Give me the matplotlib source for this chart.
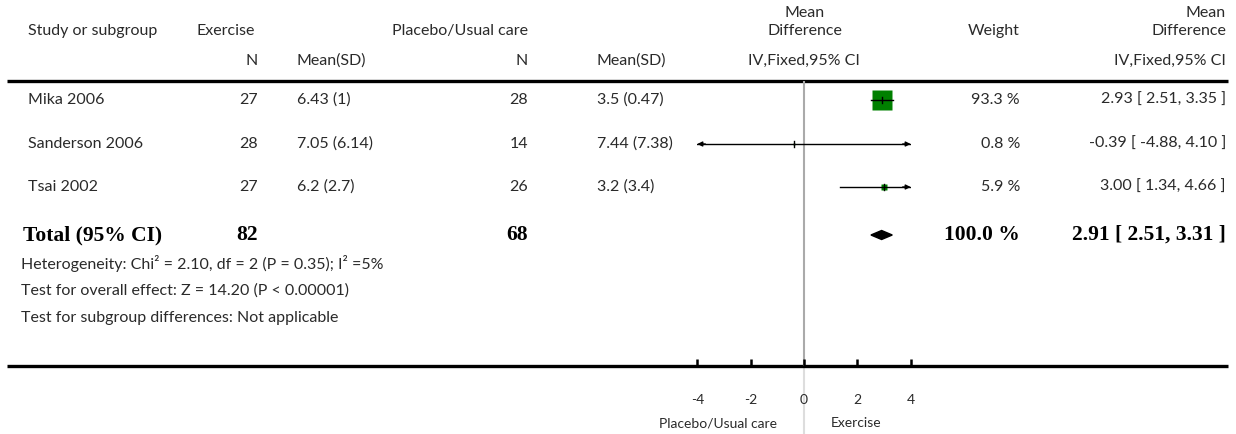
import numpy as np
import matplotlib.pyplot as plt
from matplotlib.patches import Polygon

# study rows
studies = ['Mika 2006', 'Sanderson 2006', 'Tsai 2002']
n_ex = [27, 28, 27]
msd_ex = ['6.43 (1)', '7.05 (6.14)', '6.2 (2.7)']
n_pl = [28, 14, 26]
msd_pl = ['3.5 (0.47)', '7.44 (7.38)', '3.2 (3.4)']
md = [2.93, -0.39, 3.00]
lo = [2.51, -4.88, 1.34]
hi = [3.35, 4.10, 4.66]
weight = [93.3, 0.8, 5.9]

# pooled estimate
tot_n_ex, tot_n_pl = 82, 68
tot_md, tot_lo, tot_hi = 2.91, 2.51, 3.31
tot_weight = 100.0

footer = ['Heterogeneity: Chi² = 2.10, df = 2 (P = 0.35); I² =5%',
          'Test for overall effect: Z = 14.20 (P < 0.00001)',
          'Test for subgroup differences: Not applicable']
xticks = [-4, -2, 0, 2, 4]
xlim = (-4, 4)

W, H = 1236, 434
fig = plt.figure(figsize=(W / 100, H / 100), dpi=100)
ax = fig.add_axes([0, 0, 1, 1])
ax.set_xlim(0, W)
ax.set_ylim(H, 0)
ax.axis('off')

sans = 'Lato'
serif = 'Liberation Serif'
fs = 11.5
fs_bold = 15.5
col = '#2a2a2a'

def txt(x, y, s, ha='left', bold=False, size=fs):
    ax.text(x, y, s, ha=ha, va='center', fontsize=fs_bold if bold else size,
            family=serif if bold else sans,
            fontweight='bold' if bold else 'normal', color='black' if bold else col)

# header
txt(28, 31, 'Study or subgroup')
txt(197, 31, 'Exercise')
txt(528, 31, 'Placebo/Usual care', ha='right')
txt(805, 13, 'Mean', ha='center')
txt(805, 31, 'Difference', ha='center')
txt(1020, 31, 'Weight', ha='right')
txt(1226, 13, 'Mean', ha='right')
txt(1226, 31, 'Difference', ha='right')
txt(258, 61, 'N', ha='right')
txt(297, 61, 'Mean(SD)')
txt(528, 61, 'N', ha='right')
txt(597, 61, 'Mean(SD)')
txt(804, 61, 'IV,Fixed,95% CI', ha='center')
txt(1226, 61, 'IV,Fixed,95% CI', ha='right')

ax.plot([7, 1228], [81, 81], color='black', lw=2.4, solid_capstyle='butt')
ax.plot([7, 1228], [366, 366], color='black', lw=2.4, solid_capstyle='butt')

row_y = [100, 144, 187]
for i, y in enumerate(row_y):
    txt(28, y, studies[i])
    txt(258, y, str(n_ex[i]), ha='right')
    txt(297, y, msd_ex[i])
    txt(528, y, str(n_pl[i]), ha='right')
    txt(597, y, msd_pl[i])
    txt(1020, y, f'{weight[i]:.1f} %', ha='right')
    txt(1226, y, f'{md[i]:.2f} [ {lo[i]:.2f}, {hi[i]:.2f} ]', ha='right')

ty = 235
txt(23, ty, 'Total (95% CI)', bold=True)
txt(258, ty, str(tot_n_ex), ha='right', bold=True)
txt(528, ty, str(tot_n_pl), ha='right', bold=True)
txt(1020, ty, f'{tot_weight:.1f} %', ha='right', bold=True)
txt(1226, ty, f'{tot_md:.2f} [ {tot_lo:.2f}, {tot_hi:.2f} ]', ha='right', bold=True)

for k, s in enumerate(footer):
    txt(21, 264 + 27 * k, s)

# forest panel: x in effect units, y in pixel rows
x0 = 804 - 4 * 26.67
fx = fig.add_axes([x0 / W, (H - 366) / H, 8 * 26.67 / W, (366 - 81) / H])
fx.set_xlim(*xlim)
fx.set_ylim(366, 81)
fx.patch.set_alpha(0)
for sp in fx.spines.values():
    sp.set_visible(False)
fx.set_yticks([])
fx.set_xticks(xticks)
fx.set_xticklabels([str(t) for t in xticks], family=sans, fontsize=10, color=col)
fx.tick_params(axis='x', direction='in', length=5, width=1.8, pad=20, color='black')

fx.axvline(0, color='#aaaaaa', lw=1.5, zorder=1)
ax.plot([804, 804], [366, H], color='#dddddd', lw=1.5, zorder=0)

for i, y in enumerate(row_y):
    a, b = max(lo[i], xlim[0]), min(hi[i], xlim[1])
    fx.plot([a, b], [y, y], color='black', lw=1, zorder=3)
    side = 2.1 * np.sqrt(weight[i])
    fx.plot(md[i], y, marker='s', ms=side * 0.72, color='#008000', mec='none', zorder=2)
    fx.plot([md[i], md[i]], [y - 3, y + 3], color='black', lw=1, zorder=4)
    if lo[i] < xlim[0]:
        fx.annotate('', xy=(xlim[0], y), xytext=(xlim[0] + 0.3, y),
                    arrowprops=dict(arrowstyle='-|>', color='black', lw=1,
                                    mutation_scale=7, shrinkA=0, shrinkB=0))
    if hi[i] > xlim[1]:
        fx.annotate('', xy=(xlim[1], y), xytext=(xlim[1] - 0.3, y),
                    arrowprops=dict(arrowstyle='-|>', color='black', lw=1,
                                    mutation_scale=7, shrinkA=0, shrinkB=0))

fx.add_patch(Polygon([[tot_lo, ty], [tot_md, ty - 4.5], [tot_hi, ty], [tot_md, ty + 4.5]],
                     closed=True, color='black', zorder=3))

txt(777, 423, 'Placebo/Usual care', ha='right', size=10)
txt(831, 423, 'Exercise', size=10)

fig.savefig('out.png', dpi=100)
